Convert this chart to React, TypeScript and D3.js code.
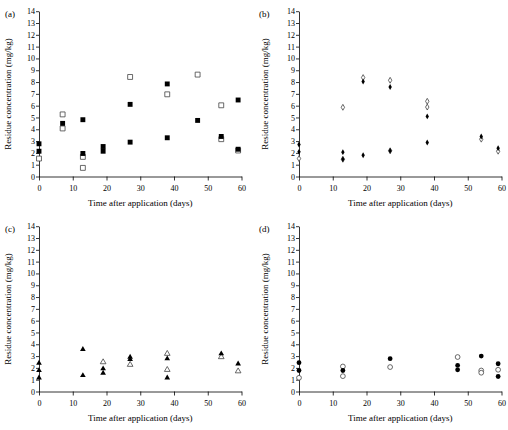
import React, { useEffect, useRef } from 'react'
import * as d3 from 'd3'

// x: time after application (days), y: residue (mg/kg)
const xTicks = [0, 10, 20, 30, 40, 50, 60]
const yTicks = [0, 1, 2, 3, 4, 5, 6, 7, 8, 9, 10, 11, 12, 13, 14]
const panelLabels = ['(a)', '(b)', '(c)', '(d)']

const aFilled = [[0, 2.77], [0, 2.14], [7, 4.5], [13, 4.81], [13, 1.95], [19, 2.54], [19, 2.14], [27, 6.11], [27, 2.91], [38, 7.84], [38, 3.28], [47, 4.75], [54, 3.39], [59, 6.48], [59, 2.31]]
const aOpen = [[0, 1.52], [7, 5.26], [7, 4.07], [13, 1.66], [13, 0.73], [27, 8.43], [38, 6.96], [47, 8.63], [54, 6.03], [54, 3.16], [59, 2.2]]

const bFilled = [[0, 2.71], [0, 2.09], [13, 2.06], [13, 1.46], [19, 8.04], [19, 1.8], [27, 7.58], [27, 2.18], [38, 5.09], [38, 2.88], [54, 3.39], [59, 2.4]]
const bOpen = [[0, 1.52], [13, 5.86], [13, 1.46], [19, 8.38], [27, 8.15], [27, 2.18], [38, 6.37], [38, 5.88], [54, 3.16], [59, 2.14]]

const cFilled = [[0, 2.41], [0, 1.78], [0, 1.16], [13, 3.57], [13, 1.36], [19, 1.93], [19, 1.56], [27, 2.92], [27, 2.72], [38, 2.78], [38, 1.16], [54, 3.2], [59, 2.35]]
const cOpen = [[19, 2.49], [27, 2.27], [38, 3.2], [38, 1.84], [54, 2.92], [59, 1.72]]

const dFilled = [[0, 2.44], [0, 1.78], [13, 1.78], [27, 2.78], [47, 2.21], [47, 1.84], [54, 3.0], [59, 2.35], [59, 1.27]]
const dOpen = [[0, 1.16], [13, 2.12], [13, 1.3], [27, 2.07], [47, 2.92], [54, 1.78], [54, 1.59], [59, 1.84]]

const panels = [
  { filled: aFilled, open: aOpen, symbol: d3.symbolSquare, size: 24 },
  { filled: bFilled, open: bOpen, symbol: d3.symbolDiamond, size: 10 },
  { filled: cFilled, open: cOpen, symbol: d3.symbolTriangle, size: 14 },
  { filled: dFilled, open: dOpen, symbol: d3.symbolCircle, size: 18 },
]

export default function App() {
  const ref = useRef<SVGSVGElement>(null)

  useEffect(() => {
    const width = 508, height = 430
    const svg = d3.select(ref.current)
    svg.selectAll('*').remove()
    svg.attr('width', width).attr('height', height)

    panels.forEach((p, i) => {
      const col = i % 2, row = Math.floor(i / 2)
      const left = col === 0 ? 39 : 45
      const g = svg.append('g')
        .attr('transform', 'translate(' + (col * 254) + ',' + (row * 215) + ')')

      const x = d3.scaleLinear().domain([0, 60]).range([left, left + 202.5])
      const y = d3.scaleLinear().domain([0, 14]).range([176.5, 11.2])

      // axes
      const xAxis = g.append('g')
        .attr('transform', 'translate(0,' + y(0) + ')')
        .call(d3.axisBottom(x).tickValues(xTicks).tickSize(4).tickSizeOuter(0))
      const yAxis = g.append('g')
        .attr('transform', 'translate(' + left + ',0)')
        .call(d3.axisLeft(y).tickValues(yTicks).tickSize(3).tickSizeOuter(0))
      ;[xAxis, yAxis].forEach(a => {
        a.selectAll('text')
          .style('font-family', '"Liberation Serif", serif')
          .style('font-size', '8px')
          .attr('fill', '#000')
        a.selectAll('line,path').attr('stroke', '#000').attr('stroke-width', 0.8)
      })
      xAxis.selectAll('text').attr('dy', '0.9em')
      yAxis.selectAll('text').attr('x', -4)

      // labels
      g.append('text')
        .attr('x', 5).attr('y', 17)
        .style('font-family', '"Liberation Serif", serif')
        .style('font-size', '9px')
        .text(panelLabels[i])
      g.append('text')
        .attr('transform', 'translate(' + (col === 0 ? 11 : 14) + ',' + 94 + ') rotate(-90)')
        .attr('text-anchor', 'middle')
        .style('font-family', '"Liberation Serif", serif')
        .style('font-size', '9px')
        .text('Residue concentration (mg/kg)')
      g.append('text')
        .attr('x', (x(0) + x(60)) / 2).attr('y', 206)
        .attr('text-anchor', 'middle')
        .style('font-family', '"Liberation Serif", serif')
        .style('font-size', '9px')
        .text('Time after application (days)')

      const sym = d3.symbol().type(p.symbol).size(p.size)
      g.selectAll('path.open')
        .data(p.open)
        .enter()
        .append('path')
        .attr('class', 'open')
        .attr('d', sym)
        .attr('transform', d => 'translate(' + x(d[0]) + ',' + y(d[1]) + ')')
        .attr('fill', '#fff')
        .attr('stroke', '#444')
        .attr('stroke-width', 0.8)
      g.selectAll('path.filled')
        .data(p.filled)
        .enter()
        .append('path')
        .attr('class', 'filled')
        .attr('d', sym)
        .attr('transform', d => 'translate(' + x(d[0]) + ',' + y(d[1]) + ')')
        .attr('fill', '#000')
    })
  }, [])

  return (
    <div style={{ position: 'absolute', left: 0, top: 0 }}>
      <svg ref={ref} style={{ display: 'block' }} />
    </div>
  )
}
